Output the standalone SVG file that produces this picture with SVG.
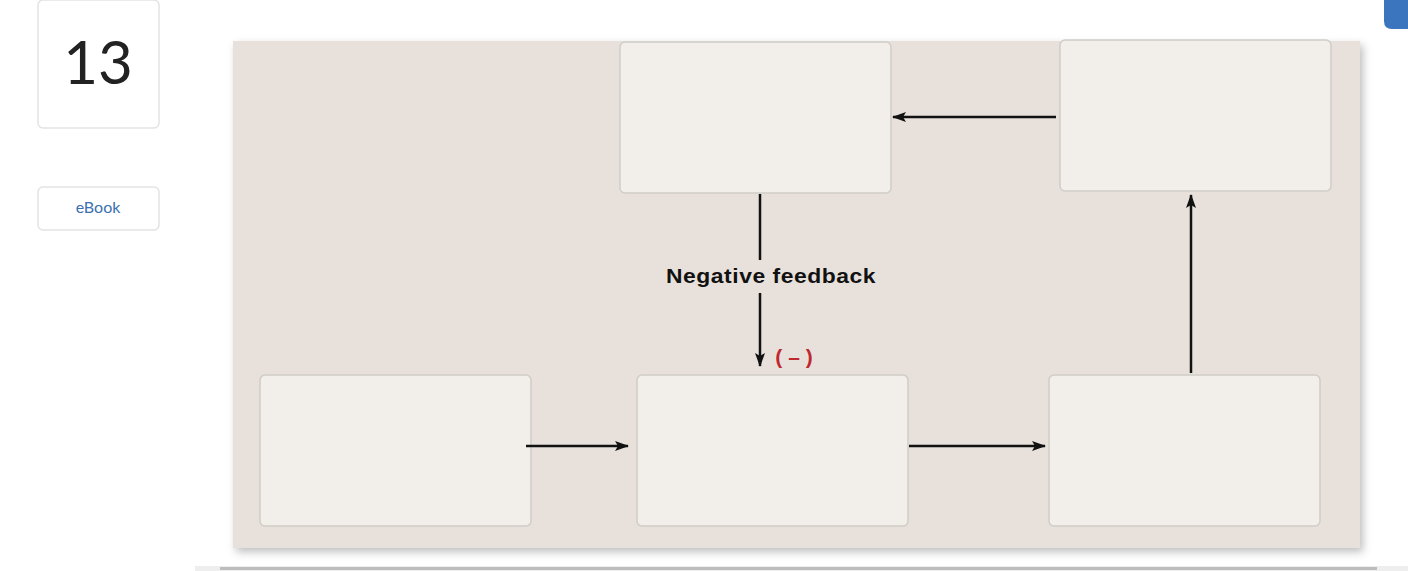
<svg xmlns="http://www.w3.org/2000/svg" width="1408" height="571" viewBox="0 0 1408 571">
<style>
.box{fill:#f2efea;stroke:#d0cdc8;stroke-width:1.5}
.ln{stroke:#111;stroke-width:2.5;fill:none}
</style>
<defs>
<marker id="ah" viewBox="0 0 14 10" refX="13" refY="5" markerWidth="14" markerHeight="10" orient="auto" markerUnits="userSpaceOnUse"><path d="M0,0 L14,5 L0,10 L3,5 z" fill="#111"/></marker>
<filter id="sh" x="-5%" y="-5%" width="110%" height="115%"><feDropShadow dx="3" dy="4" stdDeviation="4" flood-color="#000" flood-opacity="0.25"/></filter>
</defs>
<rect width="1408" height="571" fill="#fff"/>
<rect x="38" y="0" width="121" height="128" rx="5" fill="#fff" stroke="#e3e3e3" stroke-width="1.5"/>
<text x="98" y="84" font-family="Lato, sans-serif" font-size="60" text-anchor="middle" fill="#222">13</text>
<rect x="38" y="187" width="121" height="43" rx="5" fill="#fff" stroke="#e3e3e3" stroke-width="1.5"/>
<text x="98" y="213" font-family="Lato, sans-serif" font-size="16" text-anchor="middle" fill="#3a6fb0">eBook</text>
<path d="M1384,0 H1408 V29 H1392 Q1384,29 1384,21 Z" fill="#3a75bd"/>
<rect x="195" y="566" width="1213" height="5" fill="#eeeeee"/>
<rect x="220" y="567" width="1157" height="3" fill="#bdbdbd"/>
<rect x="233" y="41" width="1127" height="507" fill="#e8e1db" filter="url(#sh)"/>
<g id="n1"><rect class="box" x="620" y="42" width="271" height="151" rx="5"/></g>
<g id="n2"><rect class="box" x="1060" y="40" width="271" height="151" rx="5"/></g>
<g id="n3"><rect class="box" x="260" y="375" width="271" height="151" rx="5"/></g>
<g id="n4"><rect class="box" x="637" y="375" width="271" height="151" rx="5"/></g>
<g id="n5"><rect class="box" x="1049" y="375" width="271" height="151" rx="5"/></g>
<g id="connectors">
<path class="ln" d="M1056,117 H893" marker-end="url(#ah)"/>
<path class="ln" d="M1191,373 V195" marker-end="url(#ah)"/>
<path class="ln" d="M526,446 H628" marker-end="url(#ah)"/>
<path class="ln" d="M909,446 H1045" marker-end="url(#ah)"/>
<path class="ln" d="M760,194 V260"/>
<path class="ln" d="M760,293 V366" marker-end="url(#ah)"/>
<text x="771" y="283" font-family="Liberation Sans, Arial, sans-serif" font-weight="bold" font-size="21" text-anchor="middle" fill="#111" letter-spacing="0.5" textLength="210" lengthAdjust="spacingAndGlyphs">Negative feedback</text>
<text x="794" y="364" font-family="Liberation Sans, Arial, sans-serif" font-weight="bold" font-size="21" text-anchor="middle" fill="#c0282e">( – )</text>
</g>
</svg>
